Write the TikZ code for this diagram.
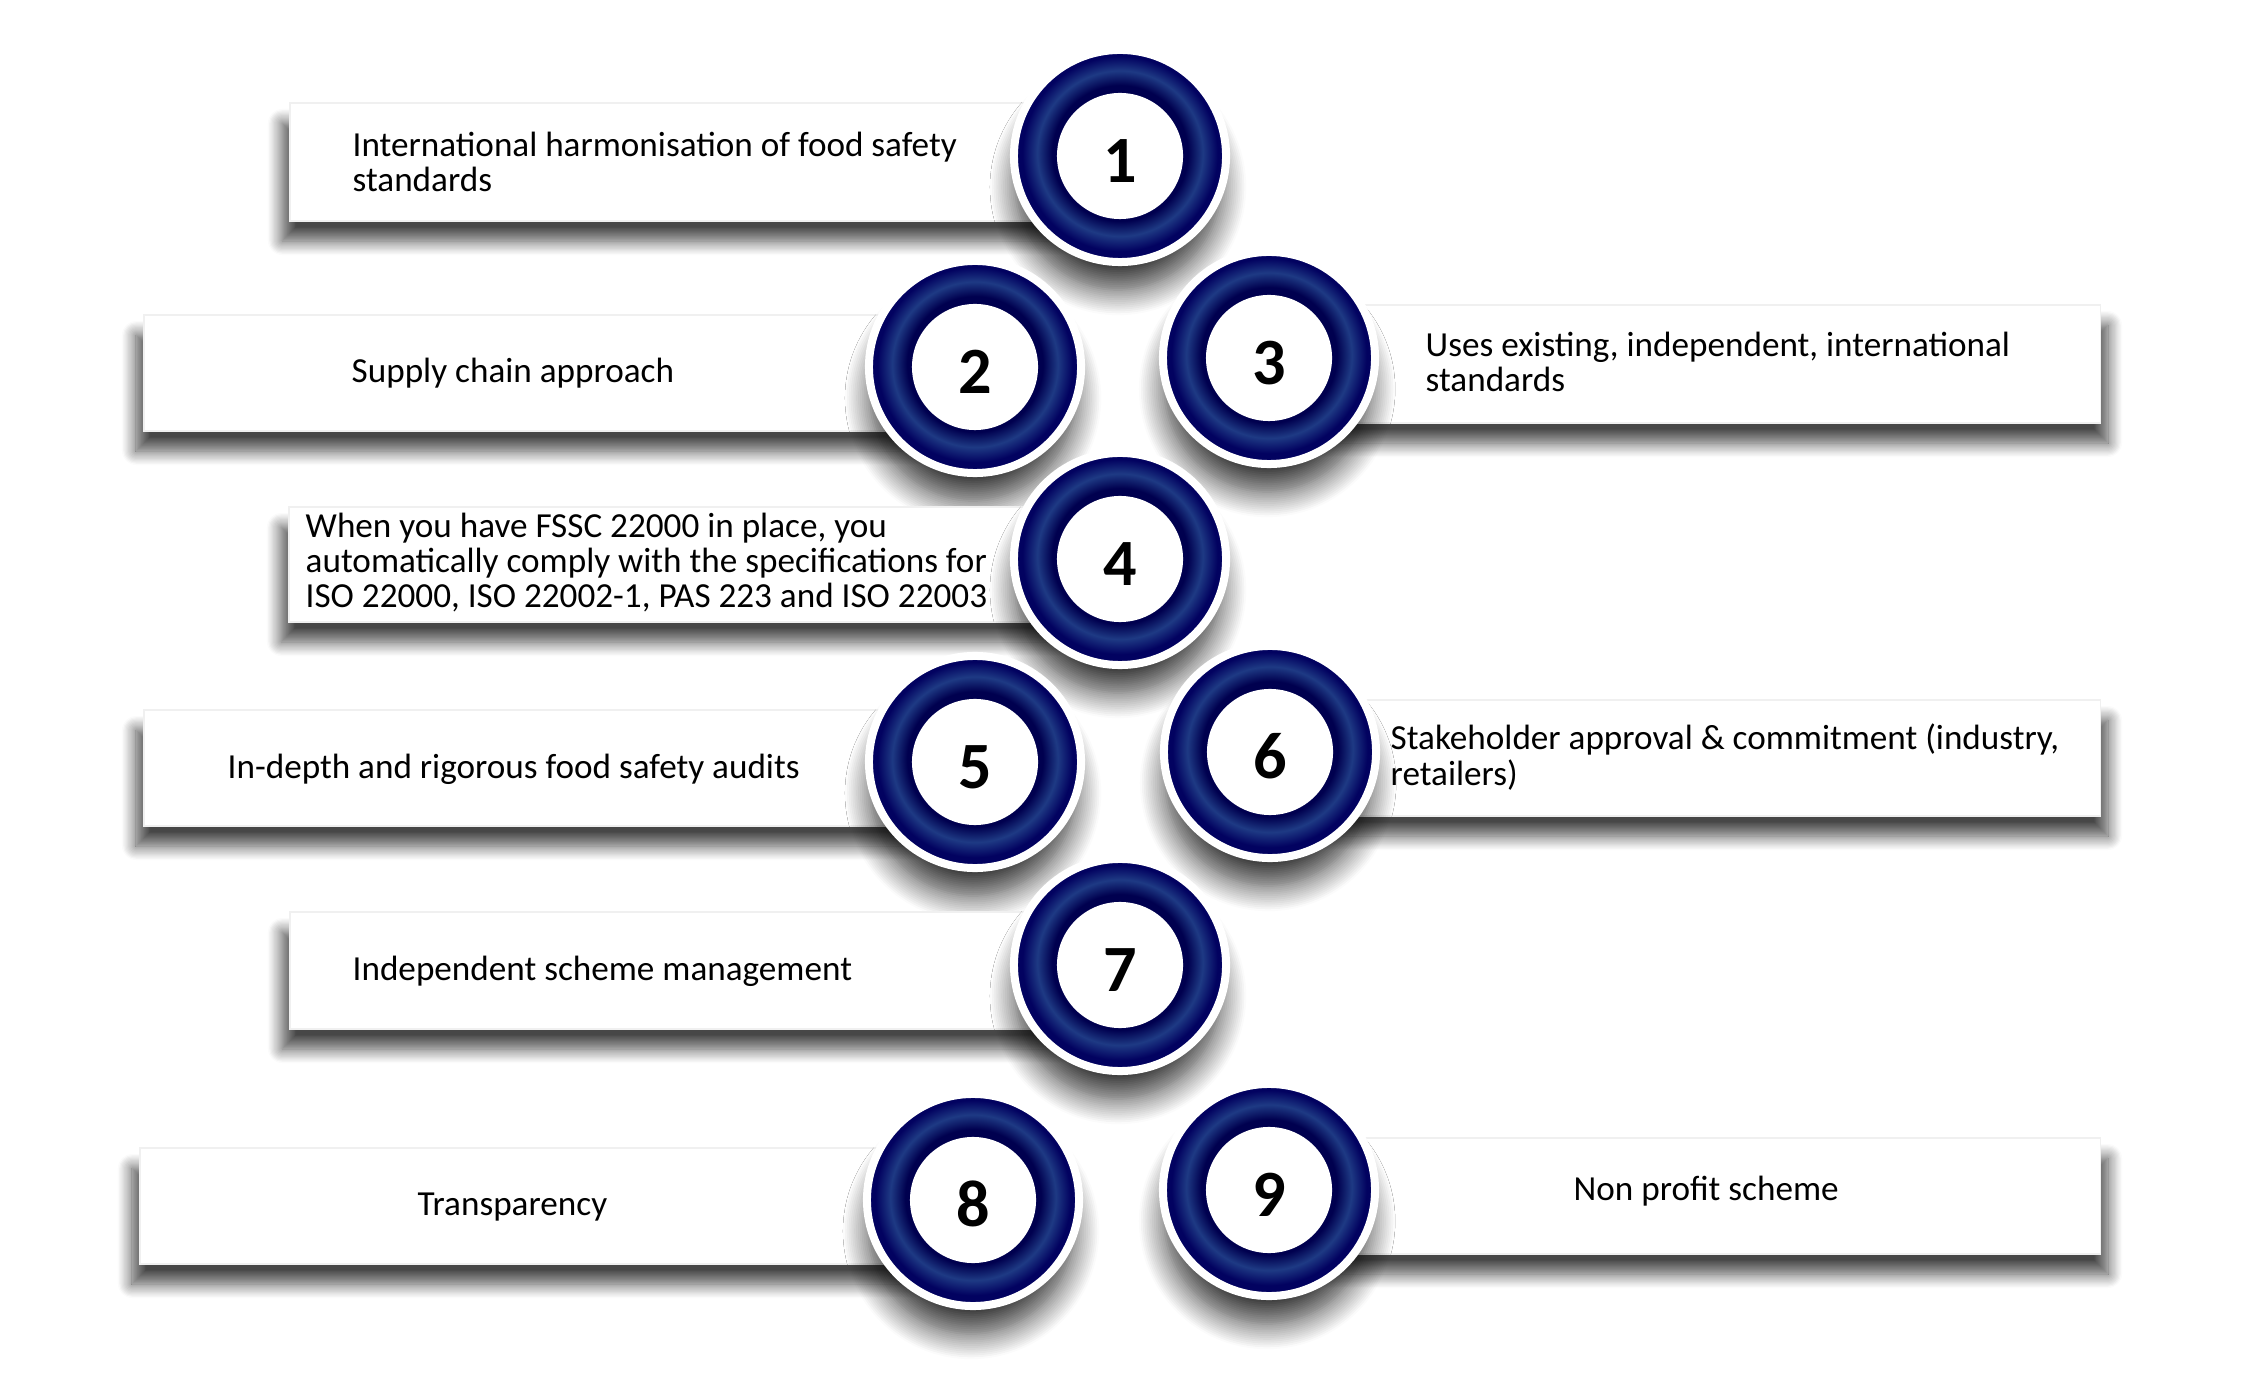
\documentclass[tikz,border=0pt]{standalone}
\usepackage{fontspec}
\setmainfont{Carlito}
\usepackage{xcolor}
\usepackage{tikz}
\usetikzlibrary{shadows.blur}
\definecolor{navy}{HTML}{020260}
\definecolor{navydeep}{HTML}{00004F}
\definecolor{navymid}{HTML}{1E3A84}
\newcommand\txtfont{\fontsize{10pt}{9.96pt}\selectfont}
\newcommand\numfont{\fontsize{18.8pt}{20pt}\selectfont\bfseries}
\pgfdeclareradialshading{ringshade}{\pgfpoint{0bp}{1bp}}{color(0bp)=(navydeep); color(14.5bp)=(navydeep); color(16bp)=(navydeep); color(19.5bp)=(navymid); color(23bp)=(navy); color(24.2bp)=(navy); color(50bp)=(navy)}
\tikzset{
  boxl/.style={fill=white, draw=black!6, line width=0.3pt,
    blur shadow={shadow xshift=-0.08cm, shadow yshift=-0.2cm, shadow blur radius=0.14cm, shadow opacity=72, shadow blur steps=12}},
  boxr/.style={fill=white, draw=black!6, line width=0.3pt,
    blur shadow={shadow xshift=0.08cm, shadow yshift=-0.2cm, shadow blur radius=0.14cm, shadow opacity=72, shadow blur steps=12}},
  txt/.style={anchor=base west, align=left, inner sep=0pt, font=\txtfont},
  numring/.style={circle, inner sep=0pt, minimum size=2.12cm, draw=white, line width=0.08cm,
    shading=ringshade, font=\numfont, text height=0.52cm, text depth=0cm,
    path picture={\fill[white] (path picture bounding box.center) circle (0.63cm);},
    blur shadow={shadow xshift=-0.02cm, shadow yshift=-0.32cm, shadow scale=0.97, shadow blur radius=0.26cm, shadow opacity=78, shadow blur steps=14}},
}

\begin{document}
\begin{tikzpicture}[x=0.01cm,y=-0.01cm]
  \useasboundingbox (0,0) rectangle (2255,1383);

  % row 1
  \path[boxl] (290,103) rectangle (1120,221);
  \node[txt] (t1) at (352,192) {International harmonisation of food safety\\standards};
  \node[numring] (c1) at (1120,156) {1};

  % row 2
  \path[boxl] (144,315) rectangle (975,431);
  \node[txt] (t2) at (351,383) {Supply chain approach};
  \node[numring] (c2) at (975,367) {2};
  \path[boxr] (1269,305) rectangle (2100,423);
  \node[txt] (t3) at (1425,392) {Uses existing, independent, international\\standards};
  \node[numring] (c3) at (1269,358) {3};

  % row 3
  \path[boxl] (289,507) rectangle (1120,622);
  \node[txt] (t4) at (305,608) {When you have FSSC 22000 in place, you\\automatically comply with the specifications for\\ISO 22000, ISO 22002-1, PAS 223 and ISO 22003};
  \node[numring] (c4) at (1120,559) {4};

  % row 4
  \path[boxl] (144,710) rectangle (975,826);
  \node[txt] (t5) at (227,778) {In-depth and rigorous food safety audits};
  \node[numring] (c5) at (975,762) {5};
  \path[boxr] (1270,700) rectangle (2100,816);
  \node[txt] (t6) at (1390,785) {Stakeholder approval \& commitment (industry,\\retailers)};
  \node[numring] (c6) at (1270,752) {6};

  % row 5
  \path[boxl] (290,912) rectangle (1120,1029);
  \node[txt] (t7) at (352,980) {Independent scheme management};
  \node[numring] (c7) at (1120,965) {7};

  % row 6
  \path[boxl] (140,1148) rectangle (973,1264);
  \node[txt] (t8) at (417,1215) {Transparency};
  \node[numring] (c8) at (973,1200) {8};
  \path[boxr] (1269,1138) rectangle (2100,1254);
  \node[txt] (t9) at (1573,1200) {Non profit scheme};
  \node[numring] (c9) at (1269,1190) {9};
\end{tikzpicture}
\end{document}
